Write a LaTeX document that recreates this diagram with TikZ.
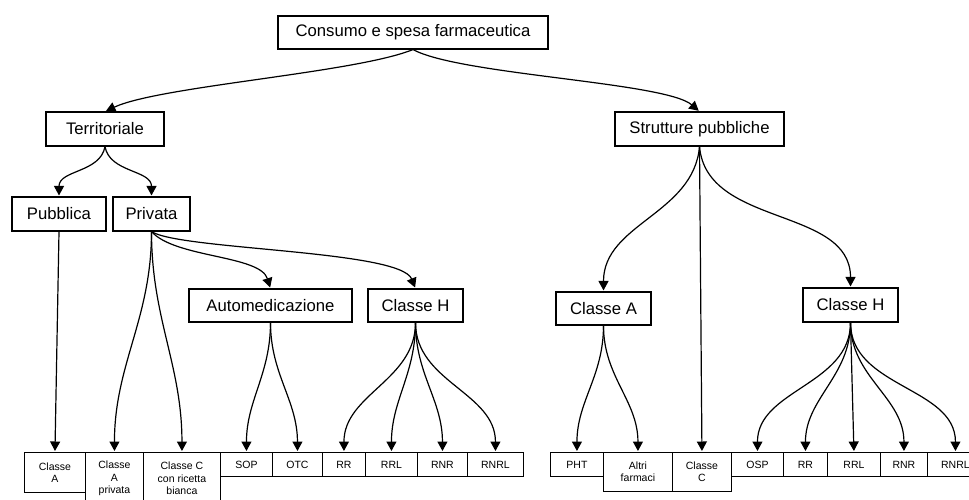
\documentclass[tikz,border=0pt]{standalone}
\usepackage{fontspec}
\setmainfont{Liberation Sans}
\usetikzlibrary{arrows.meta}
\begin{document}
\begin{tikzpicture}[x=1pt,y=1pt,
  box/.style={draw, line width=1.1pt, inner sep=0pt, font=\fontsize{16.7}{20}\selectfont},
  leaf/.style={draw, line width=0.9pt, inner sep=0pt, anchor=north west, align=center, minimum height=24pt, font=\fontsize{10.5}{12.5}\selectfont},
  conn/.style={line width=1.2pt, -{Triangle[width=10pt,length=9.5pt]}, shorten >=1pt}]
\clip (0,0) rectangle (969,-499);
\fill[white] (0,0) rectangle (969,-499);
% main boxes
\node[box, minimum width=270pt, minimum height=33pt] (top) at (413,-32.5) {Consumo e spesa farmaceutica};
\node[box, minimum width=118pt, minimum height=34pt] (terr) at (105,-129) {Territoriale};
\node[box, minimum width=169pt, minimum height=34pt] (strut) at (699.5,-129) {Strutture pubbliche};
\node[box, minimum width=94pt, minimum height=34pt] (pub) at (59,-214) {Pubblica};
\node[box, minimum width=77pt, minimum height=34pt] (priv) at (151.5,-214) {Privata};
\node[box, minimum width=163pt, minimum height=33pt] (auto) at (270.5,-305.5) {Automedicazione};
\node[box, minimum width=95pt, minimum height=33pt] (chL) at (415.5,-305.5) {Classe H};
\node[box, minimum width=95pt, minimum height=33pt] (caR) at (603.5,-308.5) {Classe A};
\node[box, minimum width=95pt, minimum height=34pt] (chR) at (850.5,-305) {Classe H};
% leaf boxes
\node[leaf, minimum width=61pt, minimum height=40pt] (cA) at (24,-452) {Classe\\A};
\node[leaf, minimum width=58pt, minimum height=52pt] (cAp) at (85,-452) {Classe\\A\\privata};
\node[leaf, minimum width=77pt, minimum height=52pt] (cCb) at (143,-452) {Classe C\\con ricetta\\bianca};
\node[leaf, minimum width=52pt] (sop) at (220,-452) {SOP};
\node[leaf, minimum width=50pt] (otc) at (272,-452) {OTC};
\node[leaf, minimum width=43pt] (rrL) at (322,-452) {RR};
\node[leaf, minimum width=52pt] (rrlL) at (365,-452) {RRL};
\node[leaf, minimum width=50pt] (rnrL) at (417,-452) {RNR};
\node[leaf, minimum width=56pt] (rnrlL) at (467,-452) {RNRL};
\node[leaf, minimum width=53pt] (pht) at (550,-452) {PHT};
\node[leaf, minimum width=69pt, minimum height=39pt] (altri) at (603,-452) {Altri\\farmaci};
\node[leaf, minimum width=59pt, minimum height=39pt] (ccR) at (672,-452) {Classe\\C};
\node[leaf, minimum width=52pt] (osp) at (731,-452) {OSP};
\node[leaf, minimum width=44pt] (rrR) at (783,-452) {RR};
\node[leaf, minimum width=53pt] (rrlR) at (827,-452) {RRL};
\node[leaf, minimum width=47pt] (rnrR) at (880,-452) {RNR};
\node[leaf, minimum width=56pt] (rnrlR) at (927,-452) {RNRL};
% connectors
\draw[conn] (top.south) .. controls (355,-73) and (160,-86) .. (terr.north);
\draw[conn] (top.south) .. controls (460,-75) and (665,-82) .. (strut.north);
\draw[conn] (terr.south) to[out=-100,in=90] (pub.north);
\draw[conn] (terr.south) to[out=-80,in=90] (priv.north);
\draw[conn] (pub.south) -- (cA.north);
\draw[conn] (priv.south) to[out=-90,in=90] (cAp.north);
\draw[conn] (priv.south) to[out=-90,in=90] (cCb.north);
\draw[conn] (priv.south) .. controls (175,-258) and (260,-255) .. (auto.north);
\draw[conn] (priv.south) .. controls (180,-250) and (400,-250) .. (chL.north);
\draw[conn] (auto.south) to[out=-90,in=90] (sop.north);
\draw[conn] (auto.south) to[out=-90,in=90] (otc.north);
\draw[conn] (chL.south) to[out=-90,in=90] (rrL.north);
\draw[conn] (chL.south) to[out=-90,in=90] (rrlL.north);
\draw[conn] (chL.south) to[out=-90,in=90] (rnrL.north);
\draw[conn] (chL.south) to[out=-90,in=90] (rnrlL.north);
\draw[conn] (strut.south) to[out=-95,in=90] (caR.north);
\draw[conn] (strut.south) -- (ccR.north);
\draw[conn] (strut.south) to[out=-85,in=90] (chR.north);
\draw[conn] (caR.south) to[out=-90,in=90] (pht.north);
\draw[conn] (caR.south) to[out=-90,in=90] (altri.north);
\draw[conn] (chR.south) to[out=-90,in=90] (osp.north);
\draw[conn] (chR.south) to[out=-90,in=90] (rrR.north);
\draw[conn] (chR.south) -- (rrlR.north);
\draw[conn] (chR.south) to[out=-90,in=90] (rnrR.north);
\draw[conn] (chR.south) to[out=-90,in=90] (rnrlR.north);
\end{tikzpicture}
\end{document}
